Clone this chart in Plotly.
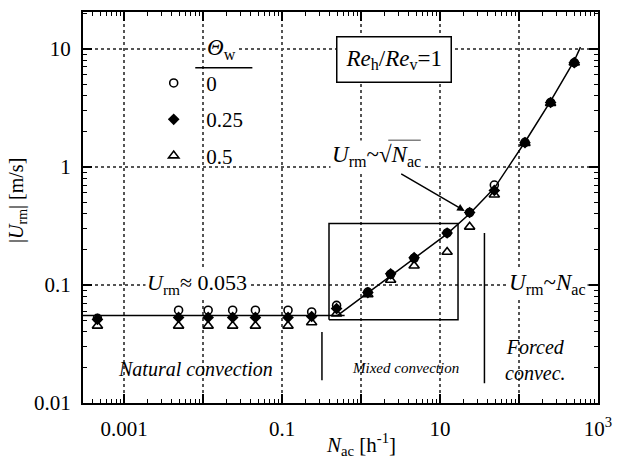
import plotly.graph_objects as go

# ---- data ----
nac = [0.00046, 0.0049, 0.0116, 0.0237, 0.046, 0.119, 0.237, 0.49, 1.22, 2.37,
       4.7, 12.3, 23.7, 48.7, 119, 251, 501]
u_theta0 = [0.052, 0.061, 0.061, 0.061, 0.061, 0.061, 0.059, 0.067, 0.087, 0.123,
            0.168, 0.275, 0.41, 0.70, 1.61, 3.5, 7.6]
u_theta025 = [0.051, 0.053, 0.053, 0.053, 0.053, 0.053, 0.054, 0.063, 0.086, 0.124,
              0.17, 0.275, 0.41, 0.63, 1.60, 3.5, 7.6]
u_theta05 = [0.045, 0.045, 0.045, 0.045, 0.045, 0.045, 0.048, 0.057, 0.083, 0.11,
             0.145, 0.19, 0.31, 0.58, 1.58, 3.45, 7.6]

fit_flat_x = [0.000302, 0.62]
fit_flat_y = [0.055, 0.055]
fit_rise_x = [0.5, 2.37, 12.3, 23.7, 48.7, 119, 251, 501, 600]
fit_rise_y = [0.055, 0.12, 0.27, 0.40, 0.66, 1.62, 3.6, 7.9, 10.3]

mixed_box_x = [0.393, 16.9, 16.9, 0.393, 0.393]
mixed_box_y = [0.0507, 0.0507, 0.33, 0.33, 0.0507]
sep1_x = [0.32, 0.32]
sep1_y = [0.0156, 0.040]
sep2_x = [36.5, 36.5]
sep2_y = [0.0147, 0.275]

x_ticks = [1e-3, 1e-2, 1e-1, 1, 10, 100, 1000]
x_ticktext = ["0.001", "", "0.1", "", "10", "", "10<sup>3</sup>"]
y_ticks = [0.01, 0.1, 1, 10]
y_ticktext = ["0.01", "0.1", "1", "10"]
theta_labels = ["0", "0.25", "0.5"]

FONT = "Liberation Serif, Times New Roman, Times, serif"
BLACK = "black"

x_minor = [k * 10.0 ** d for d in range(-4, 3) for k in range(2, 10)]
y_minor = [k * 10.0 ** d for d in range(-2, 2) for k in range(2, 10)]

fig = go.Figure()

line_style = dict(color=BLACK, width=1.5)
for xs, ys in [(fit_flat_x, fit_flat_y), (fit_rise_x, fit_rise_y),
               (mixed_box_x, mixed_box_y), (sep1_x, sep1_y), (sep2_x, sep2_y)]:
    fig.add_trace(go.Scatter(x=xs, y=ys, mode="lines", line=line_style,
                             showlegend=False, hoverinfo="skip"))

fig.add_trace(go.Scatter(x=nac, y=u_theta0, mode="markers", name=theta_labels[0],
                         legendrank=1, legendgroup="a",
                         marker=dict(symbol="circle-open", size=8, color=BLACK,
                                     line=dict(width=1.6, color=BLACK))))
fig.add_trace(go.Scatter(x=nac, y=u_theta05, mode="markers", name=theta_labels[2],
                         legendrank=3, legendgroup="c",
                         marker=dict(symbol="triangle-up-open", size=9, color=BLACK,
                                     line=dict(width=1.6, color=BLACK))))
fig.add_trace(go.Scatter(x=nac, y=u_theta025, mode="markers", name=theta_labels[1],
                         legendrank=2, legendgroup="b",
                         marker=dict(symbol="diamond", size=9, color=BLACK)))

axis_common = dict(
    type="log", showline=True, linewidth=2, linecolor=BLACK, mirror="allticks",
    ticks="inside", ticklen=9, tickwidth=1.5, tickcolor=BLACK,
    showgrid=True, gridcolor="#555", griddash="dot", gridwidth=1.5,
    zeroline=False, tickfont=dict(family=FONT, size=21, color=BLACK),
    ticklabelstandoff=6,
)
fig.update_xaxes(range=[-3.52, 3.0], tickmode="array", tickvals=x_ticks,
                 ticktext=x_ticktext,
                 minor=dict(tickmode="array", tickvals=x_minor, ticks="inside",
                            ticklen=4, tickwidth=1, tickcolor=BLACK, showgrid=False),
                 **axis_common)
fig.update_yaxes(range=[-2.0, 1.31], tickmode="array", tickvals=y_ticks,
                 ticktext=y_ticktext,
                 minor=dict(tickmode="array", tickvals=y_minor, ticks="inside",
                            ticklen=4, tickwidth=1, tickcolor=BLACK, showgrid=False),
                 **axis_common)

def px_x(p):
    return (p - 83) / 523.0

def px_y(p):
    return (403 - p) / 393.0

shapes = [
    # white patch behind the legend (hides grid, stays under markers)
    dict(type="rect", xref="paper", yref="paper", layer="between",
         x0=px_x(112), x1=px_x(242), y0=px_y(173), y1=px_y(68),
         fillcolor="white", line=dict(width=0)),
    # rule under the legend heading
    dict(type="line", xref="paper", yref="paper", layer="above",
         x0=px_x(197), x1=px_x(255), y0=px_y(66), y1=px_y(66),
         line=dict(color=BLACK, width=1.5)),
    # overline of the square root
    dict(type="line", xref="paper", yref="paper", layer="above",
         x0=px_x(393), x1=px_x(426), y0=px_y(139), y1=px_y(139),
         line=dict(color=BLACK, width=1.3)),
]

anns = []
def txt(x, y, text, size=20, **kw):
    d = dict(x=x, y=y, xref="x", yref="y", text=text, showarrow=False,
             xanchor="center", yanchor="middle",
             font=dict(family=FONT, size=size, color=BLACK))
    d.update(kw)
    anns.append(d)

txt(-1.77, 1.0, "<i>Θ</i><sub>w</sub>", size=23, bgcolor="white")
txt(0.4125, 0.906, "<i>Re</i><sub>h</sub>/<i>Re</i><sub>v</sub>=1", size=23,
    bgcolor="white", bordercolor=BLACK, borderwidth=1.5, borderpad=8)
txt(0.19, 0.09, "<i>U</i><sub>rm</sub>~√<i>N</i><sub>ac</sub>",
    size=23, bgcolor="white")
txt(-2.075, -0.99, "<i>U</i><sub>rm</sub>≈ 0.053", size=22, bgcolor="white")
txt(2.36, -0.994, "<i>U</i><sub>rm</sub>~<i>N</i><sub>ac</sub>", size=23, bgcolor="white")
txt(-2.1, -1.714, "<i>Natural convection</i>", size=20)
txt(0.5625, -1.705, "<i>Mixed convection</i>", size=15)
txt(2.21, -1.633, "<i>Forced<br>convec.</i>", size=20)
anns.append(dict(x=1.3125, y=-0.374, xref="x", yref="y", ax=-65, ay=-38,
                 showarrow=True, arrowhead=2, arrowsize=1, arrowwidth=1.5,
                 arrowcolor=BLACK, text=""))
anns.append(dict(x=0.539, y=-0.107, xref="paper", yref="paper", showarrow=False,
                 xanchor="center", yanchor="middle",
                 text="<i>N</i><sub>ac</sub> [h<sup>-1</sup>]",
                 font=dict(family=FONT, size=21, color=BLACK)))
anns.append(dict(x=-0.126, y=0.517, xref="paper", yref="paper", showarrow=False,
                 xanchor="center", yanchor="middle",
                 textangle=-90, text="|<i>U</i><sub>rm</sub>| [m/s]",
                 font=dict(family=FONT, size=20, color=BLACK)))

fig.update_layout(
    width=622, height=466, margin=dict(l=83, r=16, t=10, b=63),
    paper_bgcolor="white", plot_bgcolor="white",
    annotations=anns, shapes=shapes,
    showlegend=True,
    legend=dict(x=0.113, y=0.870, xanchor="left", yanchor="top",
                bgcolor="rgba(0,0,0,0)", borderwidth=0, tracegroupgap=6, itemwidth=55,
                font=dict(family=FONT, size=21, color=BLACK)),
)

fig.write_html("out.html")
